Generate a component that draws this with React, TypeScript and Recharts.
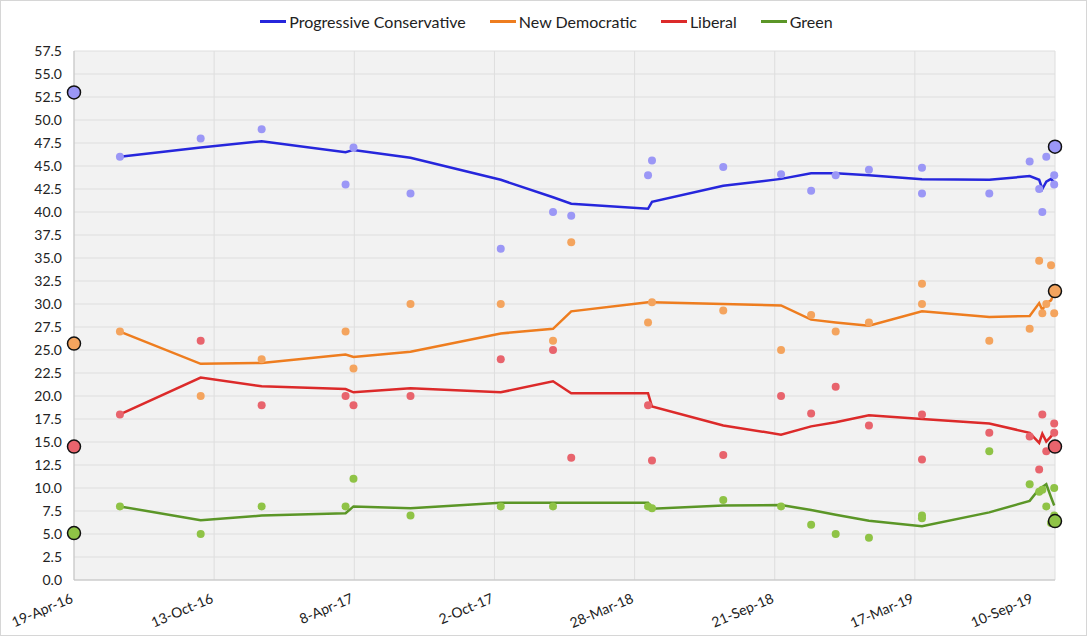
import React from 'react';
import {
  ComposedChart,
  Line,
  Scatter,
  XAxis,
  YAxis,
  CartesianGrid,
} from 'recharts';

// Poll dates (two polls can share a date)
const pollDates = [
  '2016-06-16', '2016-09-26', '2016-12-12', '2017-03-28', '2017-04-07', '2017-06-18',
  '2017-10-10', '2017-12-15', '2018-01-07', '2018-04-14', '2018-04-19', '2018-07-18',
  '2018-09-29', '2018-11-06', '2018-12-07', '2019-01-18', '2019-03-26', '2019-03-26',
  '2019-06-19', '2019-08-09', '2019-08-21', '2019-08-25', '2019-08-30', '2019-09-05',
  '2019-09-09', '2019-09-09',
];

const pcPolls = [46, 48, 49, 43, 47, 42, 36, 40, 39.6, 44, 45.6, 44.9, 44.1, 42.3, 44, 44.6, 44.8, 42, 42, 45.5, 42.5, 40, 46, null, 44, 43];
const ndpPolls = [27, 20, 24, 27, 23, 30, 30, 26, 36.7, 28, 30.2, 29.3, 25, 28.8, 27, 28, 32.2, 30, 26, 27.3, 34.7, 29, 30, 34.2, 29, null];
const libPolls = [18, 26, 19, 20, 19, 20, 24, 25, 13.3, 19, 13, 13.6, 20, 18.1, 21, 16.8, 18, 13.1, 16, 15.6, 12, 18, 14, null, 17, 16];
const greenPolls = [8, 5, 8, 8, 11, 7, 8, 8, null, 8, 7.8, 8.7, 8, 6, 5, 4.6, 7, 6.7, 14, 10.4, 9.6, 9.8, 8, 6.2, 10, 7];

// Trend line vertices
const trendDates = [
  '2016-06-16', '2016-09-26', '2016-12-12', '2017-03-28', '2017-04-07', '2017-06-18',
  '2017-10-10', '2017-12-15', '2018-01-07', '2018-04-14', '2018-04-19', '2018-07-18',
  '2018-09-29', '2018-11-06', '2018-12-07', '2019-01-18', '2019-03-26', '2019-06-19',
  '2019-08-09', '2019-08-21', '2019-08-25', '2019-08-30', '2019-09-05', '2019-09-09',
];

const pcTrend = [46.0, 47.0, 47.7, 46.5, 46.75, 45.9, 43.5, 41.6, 40.9, 40.35, 41.1, 42.85, 43.6, 44.2, 44.2, 44.0, 43.55, 43.5, 43.9, 43.5, 42.5, 43.3, 43.6, 43.2];
const ndpTrend = [27.0, 23.5, 23.6, 24.5, 24.25, 24.8, 26.8, 27.3, 29.2, 30.2, 30.2, 30.0, 29.85, 28.3, 28.0, 27.65, 29.2, 28.6, 28.7, 30.1, 29.35, 30.1, 30.4, 31.2];
const libTrend = [18.0, 22.0, 21.05, 20.75, 20.4, 20.85, 20.4, 21.6, 20.3, 20.3, 18.85, 16.8, 15.8, 16.7, 17.15, 17.9, 17.5, 17.0, 16.0, 14.9, 15.9, 15.05, 15.6, 16.1];
const greenTrend = [8.0, 6.5, 7.0, 7.25, 8.0, 7.8, 8.4, 8.4, 8.4, 8.4, 7.75, 8.1, 8.15, 7.6, 7.1, 6.45, 5.85, 7.35, 8.6, 9.9, 10.1, 10.4, 9.0, 8.1];

// Election results
const electionDates = ['2016-04-19', '2019-09-10'];
const pcResults = [53.0, 47.1];
const ndpResults = [25.7, 31.4];
const libResults = [14.5, 14.5];
const greenResults = [5.1, 6.4];

const xTickDates = ['2016-04-19', '2016-10-13', '2017-04-08', '2017-10-02', '2018-03-28', '2018-09-21', '2019-03-17', '2019-09-10'];
const yTicks = [0, 2.5, 5, 7.5, 10, 12.5, 15, 17.5, 20, 22.5, 25, 27.5, 30, 32.5, 35, 37.5, 40, 42.5, 45, 47.5, 50, 52.5, 55, 57.5];

const parties = [
  { name: 'Progressive Conservative', line: '#2626dc', dot: '#9b97f6', polls: pcPolls, trend: pcTrend, results: pcResults },
  { name: 'New Democratic', line: '#ee7d1f', dot: '#f4a45e', polls: ndpPolls, trend: ndpTrend, results: ndpResults },
  { name: 'Liberal', line: '#dc2a2a', dot: '#e8646d', polls: libPolls, trend: libTrend, results: libResults },
  { name: 'Green', line: '#5b9627', dot: '#8fc346', polls: greenPolls, trend: greenTrend, results: greenResults },
];

const ts = (d: string) => new Date(d).getTime();
const MONTHS = ['Jan', 'Feb', 'Mar', 'Apr', 'May', 'Jun', 'Jul', 'Aug', 'Sep', 'Oct', 'Nov', 'Dec'];
const fmtDate = (t: number) => {
  const d = new Date(t);
  return `${d.getUTCDate()}-${MONTHS[d.getUTCMonth()]}-${String(d.getUTCFullYear()).slice(2)}`;
};

const toPoints = (dates: string[], vals: (number | null)[]) =>
  dates
    .map((d, i) => ({ x: ts(d), y: vals[i] }))
    .filter((p) => p.y !== null);

const FONT = 'Lato, "Open Sans", sans-serif';

const XTick = (props: any) => {
  const { x, y, payload } = props;
  return (
    <g transform={`translate(${x},${y + 14})`}>
      <text textAnchor="end" transform="rotate(-23)" fontSize={14} fill="#222" fontFamily={FONT}>
        {fmtDate(payload.value)}
      </text>
    </g>
  );
};

const dotShape = (fill: string) => (props: any) => (
  <circle cx={props.cx} cy={props.cy} r={4} fill={fill} />
);

const resultShape = (fill: string) => (props: any) => (
  <circle cx={props.cx} cy={props.cy} r={6.5} fill={fill} stroke="#111" strokeWidth={1.5} />
);

export default function App() {
  return (
    <div
      style={{
        position: 'absolute',
        left: 0,
        top: 0,
        width: 1087,
        height: 636,
        boxSizing: 'border-box',
        border: '1px solid #d6d6d6',
        background: '#fff',
        fontFamily: FONT,
      }}
    >
      <div
        style={{
          position: 'absolute',
          top: 11,
          left: 0,
          width: '100%',
          display: 'flex',
          justifyContent: 'center',
          gap: 24,
          fontSize: 16,
          color: '#222',
          paddingLeft: 6,
          boxSizing: 'border-box',
        }}
      >
        {parties.map((p) => (
          <div key={p.name} style={{ display: 'flex', alignItems: 'center' }}>
            <span style={{ display: 'inline-block', width: 26, height: 3, background: p.line, marginRight: 3 }} />
            <span>{p.name}</span>
          </div>
        ))}
      </div>
      <ComposedChart width={1085} height={634} margin={{ top: 50, right: 31, bottom: 15, left: 23 }}>
        <CartesianGrid fill="#f2f2f2" stroke="#dedede" strokeWidth={1} />
        <XAxis
          type="number"
          dataKey="x"
          domain={[ts(electionDates[0]), ts(electionDates[1])]}
          ticks={xTickDates.map(ts)}
          tick={<XTick />}
          tickLine={false}
          axisLine={{ stroke: '#c4c4c4' }}
          height={40}
          allowDataOverflow={false}
        />
        <YAxis
          type="number"
          dataKey="y"
          domain={[0, 57.5]}
          ticks={yTicks}
          tickFormatter={(v: number) => v.toFixed(1)}
          tick={{ fontSize: 14, fill: '#222', fontFamily: FONT }}
          tickLine={false}
          tickSize={6}
          tickMargin={6}
          axisLine={{ stroke: '#c4c4c4' }}
          width={50}
          interval={0}
        />
        {parties.map((p) => (
          <Scatter
            key={`polls-${p.name}`}
            data={toPoints(pollDates, p.polls)}
            dataKey="y"
            shape={dotShape(p.dot)}
            isAnimationActive={false}
          />
        ))}
        {parties.map((p) => (
          <Line
            key={`trend-${p.name}`}
            data={toPoints(trendDates, p.trend)}
            dataKey="y"
            type="linear"
            stroke={p.line}
            strokeWidth={2.5}
            dot={false}
            activeDot={false}
            isAnimationActive={false}
          />
        ))}
        {parties.map((p) => (
          <Scatter
            key={`result-${p.name}`}
            data={toPoints(electionDates, p.results)}
            dataKey="y"
            shape={resultShape(p.dot)}
            isAnimationActive={false}
          />
        ))}
      </ComposedChart>
    </div>
  );
}
